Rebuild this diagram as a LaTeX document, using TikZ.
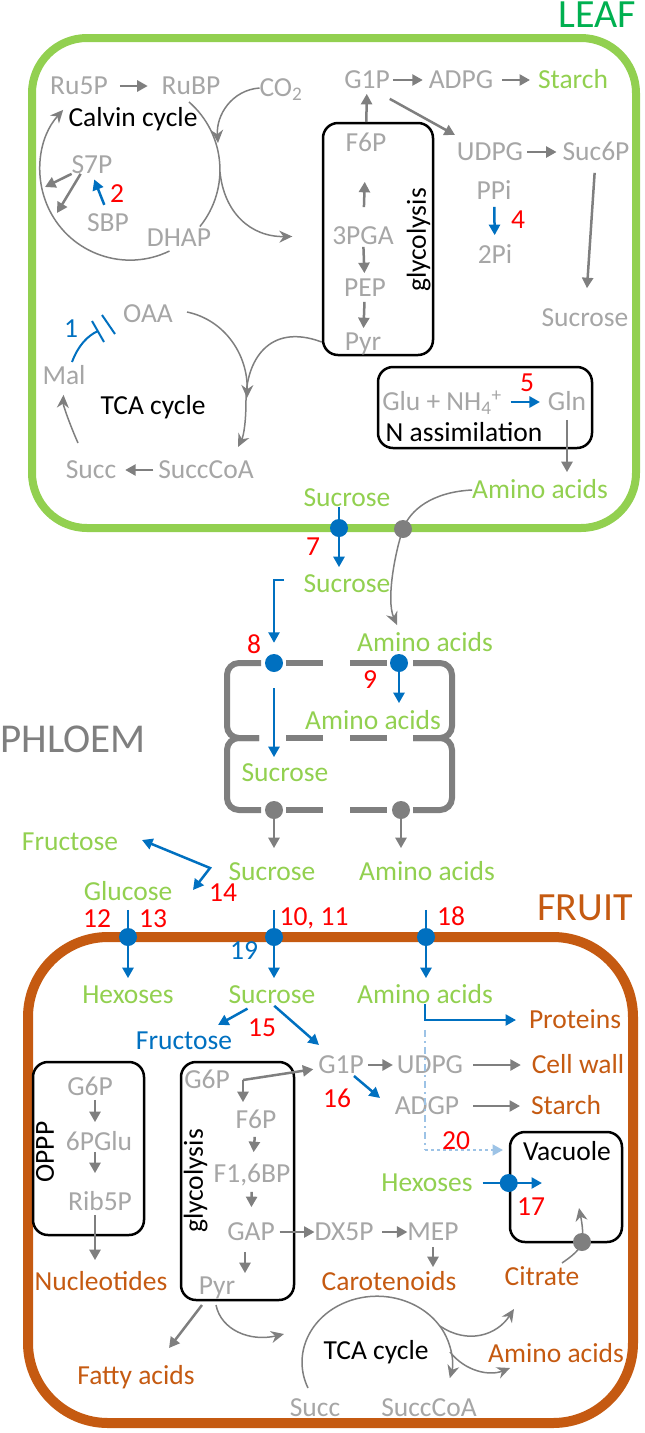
\documentclass[tikz,border=0pt]{standalone}
\usepackage{fontspec}
\setmainfont{Carlito}
\usetikzlibrary{arrows.meta}

\definecolor{txtgray}{HTML}{A6A6A6}
\definecolor{arrgray}{HTML}{7F7F7F}
\definecolor{lgreen}{HTML}{92D050}
\definecolor{dgreen}{HTML}{00B050}
\definecolor{mblue}{HTML}{0070C0}
\definecolor{lblue}{HTML}{9DC3E6}
\definecolor{rust}{HTML}{C55A11}

\tikzset{
  lbl/.style={font=\fontsize{27.5}{33}\selectfont, inner sep=0pt, outer sep=0pt, text height=17.7pt, text depth=0pt},
  gr/.style={lbl, text=txtgray},
  gn/.style={lbl, text=lgreen},
  org/.style={lbl, text=rust},
  blk/.style={lbl, text=black},
  num/.style={lbl, text=red},
  bnum/.style={lbl, text=mblue},
  title/.style={inner sep=0pt, outer sep=0pt, text height=25.8pt, text depth=0pt, font=\fontsize{40}{48}\selectfont},
  ga/.style={draw=arrgray, line width=2.5pt, -{Triangle[length=10.5pt,width=11pt]}},
  ba/.style={draw=mblue, line width=2.5pt, -{Triangle[length=10.5pt,width=11pt]}},
  gc/.style={draw=arrgray, line width=1.5pt, -{Stealth[length=13pt,width=12pt]}},
  lb/.style={draw=lblue, line width=2pt},
  bdot/.style={circle, fill=mblue, minimum size=18pt, inner sep=0pt},
  gdot/.style={circle, fill=arrgray, minimum size=18pt, inner sep=0pt},
  roundbox/.style={draw=black, line width=2.5pt, rounded corners=15pt, inner sep=0pt},
  cellwall/.style={draw=arrgray, line width=6pt, rounded corners=12pt},
}

\begin{document}
\begin{tikzpicture}[x=1pt, y=-1pt]
\useasboundingbox (0,0) rectangle (645,1433);

% leaf
\node[draw=lgreen, line width=8pt, rounded corners=55pt, minimum width=604pt, minimum height=490pt] (leaf) at (334,283) {};
\node[title, text=dgreen] (leafname) at (597,15) {LEAF};

% Calvin cycle
\node[gr] (ru5p) at (79,86) {Ru5P};
\node[gr] (rubp) at (191,86) {RuBP};
\node[gr] (co2) at (281,88) {CO\textsubscript{2}};
\node[blk] (calvin) at (133,118) {Calvin cycle};
\node[gr] (s7p) at (92,165) {S7P};
\node[gr] (sbp) at (108,223) {SBP};
\node[gr] (dhap) at (179,238) {DHAP};
\node[num] (n2) at (117,194) {2};

% glycolysis in the leaf
\node[roundbox, minimum width=110pt, minimum height=232pt] (glycL) at (378,239) {};
\node[blk, rotate=90] (glyclabL) at (417,240) {glycolysis};
\node[gr] (f6pL) at (366,143) {F6P};
\node[gr] (pga) at (363,236) {3PGA};
\node[gr] (pep) at (365,288) {PEP};
\node[gr] (pyrL) at (363,342) {Pyr};

\draw[ga, shorten <=12pt, shorten >=14pt] (ru5p) -- (rubp);
\coordinate (cva) at (189,102);
\coordinate (cvb) at (169.5,251);
\coordinate (cvc) at (218,143);
\coordinate (cvd) at (220,172);
\draw[arrgray, line width=1.5pt] (cva) arc[start angle=-49, end angle=39, radius=90];
\draw[gc] (cvb) arc[start angle=64, end angle=222, radius=90];
\draw[gc] (co2.west) .. controls (232,90) and (216,115) .. (cvc);
\draw[gc, shorten >=40pt] (cvd) .. controls (224,212) and (250,237) .. (pga.west);
\coordinate (s7a) at (45,187);
\coordinate (s7b) at (57,213);
\draw[ga] (s7p.south west) -- (s7a);
\draw[ga] ([xshift=9pt]s7p.south west) -- (s7b);
\draw[ba, shorten <=10pt, shorten >=6pt] (sbp.north) -- (s7p.south);

\draw[ga, shorten <=20pt, shorten >=30pt] (pga) -- (f6pL);
\draw[ga, shorten <=2pt, shorten >=6pt] (pga) -- (pep);
\draw[ga, shorten <=5pt, shorten >=5pt] (pep) -- (pyrL);

% sucrose and starch
\node[gr] (g1pL) at (367,80) {G1P};
\node[gr] (adpg) at (461,80) {ADPG};
\node[gn] (starchL) at (573,80) {Starch};
\node[gr] (udpgL) at (490,152) {UDPG};
\node[gr] (suc6p) at (596,152) {Suc6P};
\node[gr] (sucL) at (585,318) {Sucrose};
\node[gr] (ppi) at (494,191) {PPi};
\node[gr] (pi2) at (495,255) {2Pi};
\node[num] (n4) at (518,220) {4};
\draw[ga, shorten <=12pt, shorten >=5pt] (f6pL) -- (g1pL);
\draw[ga, shorten <=3pt, shorten >=6pt] (g1pL) -- (adpg);
\draw[ga, shorten <=9pt, shorten >=8pt] (adpg) -- (starchL);
\coordinate (ua) at (455,135);
\draw[ga] ([yshift=-10pt]g1pL.south east) -- (ua);
\draw[ga, shorten <=4pt, shorten >=6pt] (udpgL) -- (suc6p);
\draw[ga, shorten <=12pt, shorten >=21pt] (suc6p) -- (sucL);
\draw[ba, shorten <=7pt, shorten >=11pt] (ppi) -- (pi2);

% N assimilation
\node[roundbox, minimum width=214pt, minimum height=81pt] (nbox) at (485,407.5) {};
\node[gr] (glu) at (442,402) {Glu + NH\textsubscript{4}\textsuperscript{+}};
\node[gr] (gln) at (567,402) {Gln};
\node[blk] (nassim) at (464,433) {N assimilation};
\node[num] (n5) at (527,383) {5};
\draw[ba, shorten <=9pt, shorten >=8pt] (glu) -- (gln);
\node[gn] (aaL) at (540,490) {Amino acids};
\draw[ga, shorten <=9pt, shorten >=9pt] (gln.south) -- (gln.south |- aaL.north);

% TCA cycle in the leaf
\node[gr] (oaa) at (148,314) {OAA};
\node[gr] (mal) at (64,376) {Mal};
\node[blk] (tcaL) at (153,406) {TCA cycle};
\node[gr] (succL) at (91,470) {Succ};
\node[gr] (succoaL) at (206,470) {SuccCoA};
\node[bnum] (n1) at (71,329) {1};
\draw[ga, shorten <=5pt, shorten >=9pt] (succoaL) -- (succL);
\coordinate (ma) at (72,362);
\coordinate (mb) at (98,331);
\draw[mblue, line width=2pt] (ma) .. controls (78,346) and (87,336) .. (mb);
\draw[mblue, line width=2pt] (92,321) -- (104,342) (102,315) -- (115,334);
\coordinate (sa) at (78,443);
\draw[gc, shorten >=10pt] (sa) .. controls (70,425) and (63,405) .. (mal.south);
\coordinate (oa) at (187,312);
\coordinate (ob) at (247,398);
\coordinate (pb) at (238,447);
\draw[gc] (oa) .. controls (225,320) and (248,355) .. (ob);
\draw[gc] (glycL.west |- pyrL) .. controls (268,322) and (246,362) .. (246,400) .. controls (246,420) and (244,435) .. (pb);

% leaf export
\node[gn] (sucLe) at (347,498) {Sucrose};
\node[bdot] (d7) at (339,528) {};
\node[gdot] (dg1) at (403,529) {};
\node[gn] (sucP1) at (347,584) {Sucrose};
\draw[ba, shorten >=8pt] (d7 |- sucLe.south) -- (d7 |- sucP1.north);
\node[num] (n7) at (313,547) {7};
\node[gn] (aaP1) at (425,643) {Amino acids};
\coordinate (ga9) at (397,625);
\draw[gc] (aaL.west) .. controls (432,492) and (410,510) .. (dg1.center) .. controls (395,552) and (386,600) .. (ga9);

% phloem
\node[title, text=arrgray, font=\fontsize{41}{48}\selectfont] (phloem) at (73,740) {PHLOEM};
\draw[cellwall] (261,663) -- (227,663) -- (227,738) -- (259,738);
\draw[cellwall] (413,663) -- (452,663) -- (452,738) -- (413,738);
\draw[cellwall] (259,738) -- (227,738) -- (227,810) -- (261,810);
\draw[cellwall] (413,738) -- (452,738) -- (452,810) -- (413,810);
\foreach \y in {663,738,810}
  \draw[cellwall] (286,\y) -- (323,\y) (350,\y) -- (387,\y);
\node[bdot] (d8) at (274,663) {};
\node[bdot] (d9) at (399,663) {};
\node[gdot] (dg2) at (274,810) {};
\node[gdot] (dg3) at (401,810) {};
\node[num] (n8) at (254,645) {8};
\node[num] (n9) at (370,680) {9};
\coordinate (b8) at (284,580);
\draw[ba, shorten >=11pt] (b8) -| (d8);
\node[gn] (aaP2) at (373,721) {Amino acids};
\draw[ba, shorten >=9pt] (d9) -- (d9 |- aaP2.north);
\node[gn] (sucP2) at (285,773) {Sucrose};
\draw[ba, shorten <=16pt, shorten >=7pt] (d8) -- (d8 |- sucP2.north);
\node[gn] (sucP3) at (272,872) {Sucrose};
\node[gn] (aaP3) at (427,872) {Amino acids};
\draw[ga, shorten >=15pt] (dg2) -- (dg2 |- sucP3.north);
\draw[ga, shorten >=15pt] (dg3) -- (dg3 |- aaP3.north);

\node[gn] (fruL) at (70,842) {Fructose};
\node[gn] (gluc) at (128,892) {Glucose};
\node[num] (n14) at (223,893) {14};
\coordinate (j14) at (210,868);
\coordinate (f14) at (142,840);
\coordinate (g14) at (193,890);
\draw[ba, {Triangle[length=10.5pt,width=11pt]}-{Triangle[length=10.5pt,width=11pt]}] (f14) -- (j14) -- (g14);

% fruit
\node[draw=rust, line width=10pt, rounded corners=80pt, minimum width=605pt, minimum height=486pt] (fruit) at (330.5,1180) {};
\node[title, text=rust] (fruitname) at (585,908) {FRUIT};
\node[bdot] (df1) at (128,937) {};
\node[bdot] (df2) at (274,937) {};
\node[bdot] (df3) at (426,937) {};
\node[num] (n12) at (97,919) {12};
\node[num] (n13) at (153,919) {13};
\node[num] (n1011) at (314,917) {10, 11};
\node[num] (n18) at (451,917) {18};
\node[bnum] (n19) at (244,951) {19};
\node[gn] (hexF) at (128,995) {Hexoses};
\node[gn] (sucF) at (272,995) {Sucrose};
\node[gn] (aaF) at (425,995) {Amino acids};
\draw[ba, shorten <=9pt, shorten >=8pt] (gluc.south) -- (hexF.north);
\draw[ba, shorten <=29pt, shorten >=8pt] (df2 |- sucP3.south) -- (df2 |- sucF.north);
\draw[ba, shorten <=29pt, shorten >=8pt] (df3 |- aaP3.south) -- (df3 |- aaF.north);

\node[org] (prot) at (575,1020) {Proteins};
\draw[ba, shorten >=13pt] (aaF.south) |- (prot.west);
\node[num] (n15) at (262,1028) {15};
\node[lbl, text=mblue] (fruF) at (184,1041) {Fructose};
\coordinate (a15a) at (218,1025);
\coordinate (a15b) at (319,1045);
\draw[ba, shorten <=28pt] (sucF.center) -- (a15a);
\draw[ba, shorten <=3pt] (sucF.south) -- (a15b);

\node[gr] (g1pF) at (341,1065) {G1P};
\node[gr] (udpgF) at (430,1065) {UDPG};
\node[org] (cellw) at (578,1065) {Cell wall};
\node[gr] (adgp) at (427,1106) {ADGP};
\node[org] (starchF) at (566,1106) {Starch};
\node[num] (n16) at (337,1099) {16};
\draw[ga, shorten <=4pt, shorten >=4pt] (g1pF) -- (udpgF);
\draw[ga, shorten <=10pt, shorten >=11pt] (udpgF) -- (cellw);
\draw[ga, shorten <=14pt, shorten >=11pt] (adgp) -- (starchF);
\coordinate (a16) at (380,1098);
\draw[ba, shorten <=17pt] (g1pF.center) -- (a16);

% OPPP
\node[roundbox, minimum width=111pt, minimum height=173pt] (opppbox) at (88.5,1148.5) {};
\node[blk, rotate=90] (oppp) at (45,1152) {OPPP};
\node[gr] (g6pO) at (90,1087) {G6P};
\node[gr] (pglu) at (99,1142) {6PGlu};
\node[gr] (rib5p) at (100,1202) {Rib5P};
\node[org] (nucl) at (101,1282) {Nucleotides};
\coordinate (ox) at (95,0);
\draw[ga, shorten <=4pt, shorten >=11pt] (ox |- g6pO.south) -- (ox |- pglu.north);
\draw[ga, shorten <=1pt, shorten >=20pt] (ox |- pglu.south) -- (ox |- rib5p.north);
\draw[ga, shorten <=4pt, shorten >=13pt] (ox |- rib5p.south) -- (ox |- nucl.north);

% glycolysis in the fruit
\node[roundbox, minimum width=113pt, minimum height=238pt] (glycF) at (237.5,1181) {};
\node[blk, rotate=90] (glyclabF) at (194,1181) {glycolysis};
\node[gr] (g6pG) at (207,1080) {G6P};
\node[gr] (f6pF) at (256,1120) {F6P};
\node[gr] (f16bp) at (252,1174) {F1,6BP};
\node[gr] (gapF) at (251,1232) {GAP};
\node[gr] (pyrF) at (217,1286) {Pyr};
\coordinate (c6) at (243,1080);
\draw[ga, shorten >=5pt] (c6) -- (g1pF);
\draw[ga, shorten >=9pt] (c6) -- (c6 |- f6pF.north);
\draw[ga, shorten <=8pt, shorten >=13pt] (f6pF) -- (f16bp);
\draw[ga, shorten <=9pt, shorten >=16pt] (f16bp) -- (gapF);
\coordinate (gx) at (245,0);
\draw[ga, shorten <=11pt, shorten >=4pt] (gx |- gapF.south) -- (gx |- pyrF.north);

\node[gr] (dx5p) at (344,1232) {DX5P};
\node[gr] (mep) at (433,1232) {MEP};
\node[org] (carot) at (389,1282) {Carotenoids};
\draw[ga, shorten <=5pt] (gapF) -- (dx5p);
\draw[ga, shorten <=9pt] (dx5p) -- (mep);
\draw[ga, shorten <=6pt, shorten >=6pt] (mep.south) -- (mep.south |- carot.north);

% vacuole
\node[roundbox, minimum width=112pt, minimum height=110pt] (vacbox) at (566,1187) {};
\node[blk] (vac) at (567,1152) {Vacuole};
\node[gn] (hexV) at (427,1183) {Hexoses};
\coordinate (a17) at (542,1183);
\draw[ba, shorten <=10pt] (hexV) -- (a17);
\node[bdot] (dv) at (vacbox.west |- hexV) {};
\node[num] (n17) at (531,1207) {17};
\node[num] (n20) at (456,1141) {20};
\coordinate (a20) at (503,1150);
\draw[lb, dash pattern=on 7pt off 4pt on 2pt off 4pt, shorten <=26pt] (aaF.south) -- (aaF.south |- a20);
\draw[lb, dashed, -{Triangle[length=10.5pt,width=11pt]}] (aaF.south |- a20) -- (a20);

\node[org] (citrate) at (542,1277) {Citrate};
\node[gdot] (dgv) at (582,1242) {};
\coordinate (ct0) at (562,1263);
\coordinate (ct1) at (579,1208);
\draw[gc] (ct0) .. controls (572,1256) and (580,1250) .. (dgv.center) .. controls (584,1232) and (581,1218) .. (ct1);

% TCA cycle in the fruit
\node[org] (fatty) at (136,1376) {Fatty acids};
\coordinate (pf0) at (202,1305);
\coordinate (pf1) at (169,1348);
\draw[ga] (pf0) -- (pf1);
\coordinate (pt0) at (216,1305);
\coordinate (pt1) at (284,1334);
\draw[gc] (pt0) .. controls (221,1330) and (250,1342) .. (pt1);
\node[blk] (tcaF) at (376,1351) {TCA cycle};
\node[gr] (succF) at (315,1408) {Succ};
\node[gr] (succoaF) at (429,1408) {SuccCoA};
\node[org] (aaF2) at (556,1354) {Amino acids};
\coordinate (tc0) at (308,1388);
\draw[gc] (tc0) arc[start angle=157, end angle=374, x radius=75, y radius=66];
\coordinate (tc1) at (440,1326);
\coordinate (tc2) at (514,1309);
\coordinate (tc3) at (450,1352);
\coordinate (tc4) at (510,1368);
\draw[gc] (tc1) .. controls (468,1345) and (497,1335) .. (tc2);
\draw[gc] (tc3) .. controls (466,1372) and (490,1376) .. (tc4);
\end{tikzpicture}
\end{document}
